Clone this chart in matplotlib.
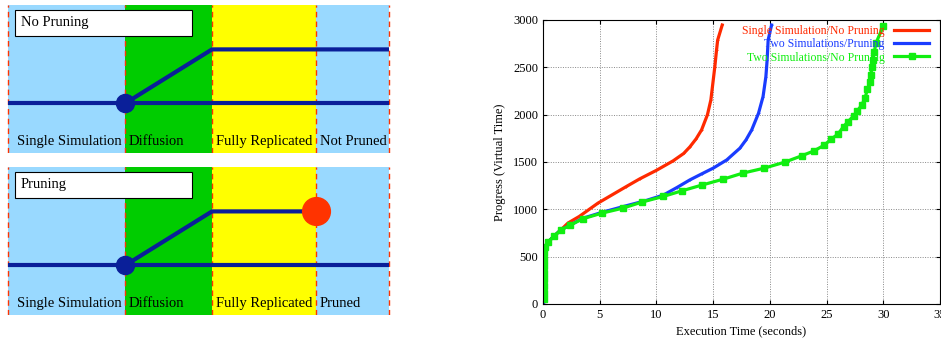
#!/usr/bin/env python3
"""pruning_progress.py"""

import matplotlib

matplotlib.use("Agg")
import matplotlib.pyplot as plt
from matplotlib.axes import Axes
from matplotlib.patches import Rectangle

plt.rcParams["font.family"] = ["Liberation Serif", "DejaVu Serif"]

# schematic stages (x edges in panel units) and their colours
stage_edges = [8, 125, 212, 316, 389]
stage_colors = ["#99d9ff", "#00cc00", "#ffff00", "#99d9ff"]
top_labels = ["Single Simulation", "Diffusion", "Fully Replicated", "Not Pruned"]
bottom_labels = ["Single Simulation", "Diffusion", "Fully Replicated", "Pruned"]
low_level = 0.335
high_level = 0.70

# progress curves: execution time (s) vs virtual time
red_x = [0.05, 0.1, 0.15, 0.44, 0.94, 1.59, 2.2, 3.2, 4.85, 7.35, 8.53, 10.0,
         11.47, 12.4, 12.95, 13.5, 13.98, 14.5, 14.8, 15.15, 15.3, 15.4, 15.8]
red_y = [0, 300, 600, 654, 714, 784, 855, 925, 1066, 1241, 1322, 1412,
         1512, 1590, 1660, 1745, 1839, 2000, 2156, 2508, 2683, 2789, 2947]

blue_x = [0.05, 0.1, 0.15, 0.44, 0.94, 1.59, 2.35, 3.5, 5.2, 7.1, 9.0, 10.6,
          11.8, 12.95, 14.0, 15.0, 16.2, 17.36, 17.9, 18.4, 19.0, 19.4, 19.65,
          19.76, 19.85, 20.15]
blue_y = [0, 300, 600, 654, 714, 784, 830, 905, 968, 1030, 1090, 1150,
          1230, 1311, 1375, 1435, 1522, 1646, 1734, 1839, 2015, 2191, 2402,
          2578, 2789, 2947]

green_x = [0.05, 0.06, 0.07, 0.08, 0.09, 0.1, 0.12, 0.13, 0.15, 0.44, 0.94,
           1.59, 2.35, 3.5, 5.2, 7.06, 8.7, 10.6, 12.26, 14.0, 15.9, 17.6,
           19.5, 21.3, 22.8, 23.9, 24.8, 25.4, 26.0, 26.5, 26.9, 27.4, 27.7,
           28.1, 28.4, 28.6, 28.8, 28.9, 29.0, 29.06, 29.2, 29.35, 30.0]
green_y = [50, 120, 190, 260, 330, 400, 470, 540, 601, 654, 714, 784, 830,
           900, 960, 1013, 1076, 1136, 1196, 1256, 1319, 1382, 1435, 1498,
           1565, 1618, 1678, 1741, 1794, 1875, 1927, 1990, 2040, 2100, 2180,
           2268, 2340, 2420, 2500, 2578, 2660, 2754, 2937]

x_ticks = [0, 5, 10, 15, 20, 25, 30, 35]
y_ticks = [0, 500, 1000, 1500, 2000, 2500, 3000]

LINE_BLUE = "#0a1f99"
DASH_RED = "#ff3300"


def schematic(ax: Axes, title: str, labels: list[str], pruned: bool) -> None:
    """Draws one stage diagram with coloured bands and simulation lines"""
    for left, right, color in zip(stage_edges[:-1], stage_edges[1:], stage_colors):
        ax.axvspan(left, right, color=color, lw=0)
    for edge in stage_edges:
        ax.axvline(edge, color=DASH_RED, lw=1, ls=(0, (4, 3)))

    # first simulation runs all the way through
    ax.plot([stage_edges[0], stage_edges[-1]], [low_level, low_level],
            color=LINE_BLUE, lw=3, solid_capstyle="butt")
    # second simulation diffuses, then either continues or gets pruned
    end = stage_edges[3] if pruned else stage_edges[-1]
    ax.plot([stage_edges[1], stage_edges[2], end],
            [low_level, high_level, high_level],
            color=LINE_BLUE, lw=3, solid_capstyle="butt")
    ax.plot(stage_edges[1], low_level, "o", color=LINE_BLUE, ms=13)
    if pruned:
        ax.plot(stage_edges[3], high_level, "o", color="#ff3300", ms=20)

    for left, text in zip(stage_edges[:-1], labels):
        ax.text(left + 9 if left == stage_edges[0] else left + 4, 0.075, text,
                fontsize=10.5, va="center", ha="left")

    # title box
    ax.add_patch(Rectangle((15, 0.792), 177, 0.174, fc="white", ec="black",
                           lw=0.8, zorder=3))
    ax.text(21, 0.879, title, fontsize=10.5, va="center", ha="left", zorder=4)
    ax.set_ylim(0, 1)
    ax.axis("off")


def progress(ax: Axes) -> None:
    ax.plot(red_x, red_y, color="#ff2a00", lw=2.3, marker="+", ms=2, mew=0.6,
            label="Single Simulation/No Pruning")
    ax.plot(blue_x, blue_y, color="#1a3cff", lw=2.3, marker="+", ms=2, mew=0.6,
            label="Two Simulations/Pruning")
    ax.plot(green_x, green_y, color="#11ee11", lw=2.3, marker="s", ms=4,
            label="Two Simulations/No Pruning")

    ax.set_xlim(0, 35)
    ax.set_ylim(0, 3000)
    ax.set_xticks(x_ticks)
    ax.set_yticks(y_ticks)
    ax.tick_params(direction="in", top=True, right=True, labelsize=9, length=3)
    ax.grid(True, color="#888888", ls=(0, (1, 1.5)), lw=0.7)
    ax.set_xlabel("Execution Time (seconds)", fontsize=9, labelpad=3)
    ax.set_ylabel("Progress (Virtual Time)", fontsize=9, labelpad=5)
    ax.legend(loc="upper right", frameon=False, markerfirst=False,
              labelcolor="linecolor", fontsize=8.5, handlelength=3.0,
              borderaxespad=0.0, labelspacing=0.12, handletextpad=0.8,
              bbox_to_anchor=(0.985, 1.0))


def main() -> None:
    fig = plt.figure(figsize=(9.41, 3.46), dpi=100)
    W, H = 941, 346
    ax_top = fig.add_axes([0 / W, (H - 153) / H, 398 / W, 148 / H])
    ax_bot = fig.add_axes([0 / W, (H - 315) / H, 398 / W, 148 / H])
    schematic(ax_top, "No Pruning", top_labels, pruned=False)
    schematic(ax_bot, "Pruning", bottom_labels, pruned=True)
    for a in (ax_top, ax_bot):
        a.set_xlim(0, 398)

    ax = fig.add_axes([543 / W, (H - 304) / H, 397 / W, 284 / H])
    progress(ax)
    fig.savefig("out.png", dpi=100)


if __name__ == "__main__":
    main()
